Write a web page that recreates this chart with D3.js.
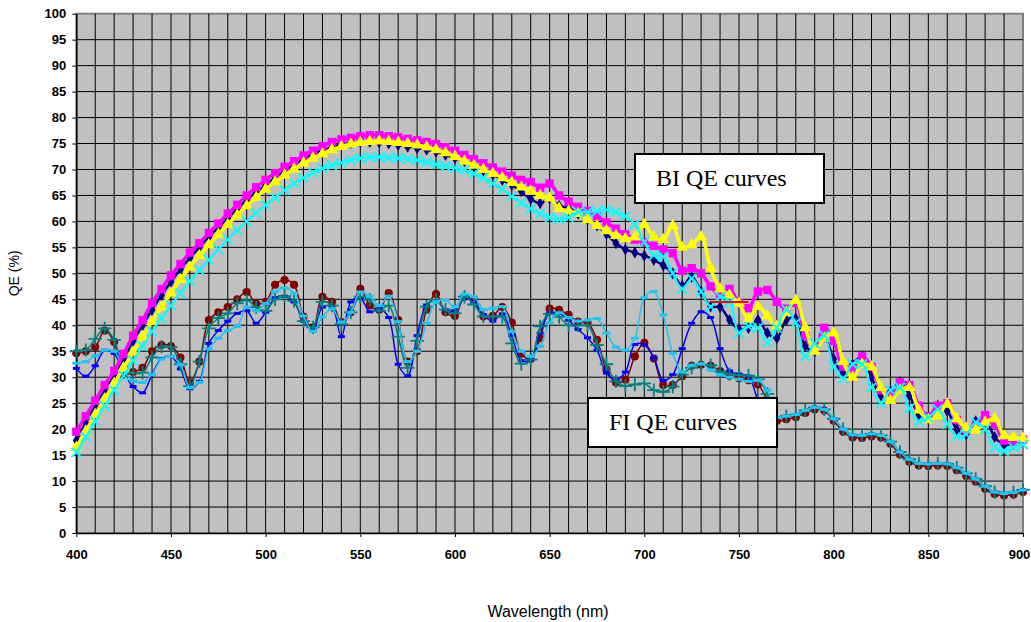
<!DOCTYPE html>
<html>
<head>
<meta charset="utf-8">
<script src="https://cdn.jsdelivr.net/npm/d3@7/dist/d3.min.js"></script>
<style>
  body { margin: 0; background: #fff; }
</style>
</head>
<body>
<div id="wrapper"></div>
<script>
// sample grid, nm (5 nm steps)
const wavelengths = d3.range(400, 901, 5);
const fiWavelengths = d3.range(400, 766, 5);
const tailWavelengths = d3.range(770, 901, 5);

// BI QE curves (%), 400..900 nm
const biNavy = [
  17.8,21.2,24.5,27.6,30.5,33.6,37,40,43,45.8,
  48.4,50.8,53,55,57,58.8,60.6,62.4,64.1,65.6,
  67,68.4,69.7,70.9,72,72.9,73.7,74.3,74.8,75.1,
  75.3,75.3,75.2,75,74.7,74.4,74.1,73.8,73.4,72.8,
  72.2,71.6,70.6,69.8,69,68,67,65.8,64.3,63.5,
  64.4,63,62.6,61.5,60.3,59.2,57.6,55.8,54.6,54,
  53.4,52.6,51.5,50,47.6,49.3,46.5,43.6,43.5,41,
  39.3,39.5,41,38.5,37.5,41,41.3,36,35,37.8,
  33.5,30.8,32.5,34,30,26.5,27.3,29,26.5,22.8,
  22,24.5,23.5,20,19,21.5,22,18.5,17,17.2,
  17.8];
const biMagenta = [
  19.5,22.5,25.5,28.5,31.2,34.5,38,41,44.3,47,
  49.6,51.8,54,55.8,57.8,59.6,61.5,63.2,65,66.6,
  68,69.3,70.5,71.6,72.7,73.6,74.5,75.3,75.8,76.1,
  76.4,76.6,76.6,76.4,76.2,75.9,75.6,75.3,74.9,74.3,
  73.6,72.8,72,71.2,70.4,69.6,68.8,68,67.6,66.5,
  67.3,65,63.8,62.8,62,61,59.8,58.6,57.5,56.5,
  56,55.3,54.6,53.9,50.5,51,50,47.5,45.8,47,
  44.3,43.3,46.5,46.8,44.5,43.2,44.3,38,35.5,39.5,
  37,32,31.5,34,32,27.5,26.5,29,28.5,24.5,
  22.5,24.5,25,21.8,19.8,20.5,22.7,21,17.8,17.6,
  18];
const biYellow = [
  16.5,19.6,22.8,25.8,28.8,31.8,34.8,37.8,40.7,43.5,
  46.2,48.8,51.2,53.4,55.5,57.5,59.4,61.2,63,64.6,
  66.2,67.6,68.9,70.1,71.2,72.2,73,73.8,74.4,74.9,
  75.2,75.4,75.5,75.4,75.2,75,74.7,74.3,73.8,73.2,
  72.5,71.6,70.8,70,69.2,68.4,67.5,66.6,65.8,65,
  64.5,62.5,62,61.5,60.3,59.2,58.2,57.3,56.7,57,
  59.4,57,56.5,59.2,55,55.5,57,51,47,45.8,
  44.2,41.2,43.6,41.8,39.8,42.5,44.8,39.5,35,37.5,
  38.5,33,30,32.5,32,28,25.5,27.5,28,23.7,
  21.8,22.5,24.8,22,20.2,19.8,21.3,22,18.7,18.4,
  18.2];
const biCyan = [
  15.5,18.5,21.5,24.5,27.5,30.3,33.2,36,38.8,41.4,
  43.8,46.2,48.5,50.6,52.6,54.6,56.5,58.3,60,61.6,
  63.2,64.6,66,67.3,68.4,69.4,70.2,70.8,71.3,71.8,
  72.2,72.4,72.4,72.3,72.2,72,71.8,71.4,71,70.6,
  70.3,69.9,69.2,68.4,67.3,66.2,64.8,63.6,62.4,61.5,
  60.8,60.4,60.8,61.8,61.8,62,62.2,61.8,61,59.5,
  56,53.5,53.2,50,47,49,46.5,43.6,45.5,44.5,
  38.5,39.8,39.5,36.7,39.5,43,40.5,34,36.5,38,
  32,29.8,32.5,32.5,28,25,27.5,28,24,21.5,
  22.2,23.8,21,18.6,19,21.3,20,16.5,15.8,16.5,
  17];
const redNm = [735, 740, 745, 750, 755];
const redQE = [44.5, 44.5, 44.5, 44.5, 44.5];

// FI QE curves (%), 400..765 nm, then tails 770..900 nm
const fiBlue = [
  31.7,30.2,32.2,35.2,34.6,30.8,28.2,27,30.5,33.6,
  34,31.6,27.8,29.2,36.5,39,40.8,42.3,42.8,40.4,
  42.5,45.3,45.6,44.5,40.8,39.2,43.5,43.6,37.8,44.5,
  45.2,42.6,43.2,41.5,32.5,30.3,38,43.9,44.7,43,
  42.8,45.2,44.5,42,40.8,42.2,38,33.2,33.4,38.5,
  42.3,42.3,41,39.2,37.6,35.2,30.8,29.5,31,36.3,
  36.2,33.8,29.4,30.5,35.5,40.4,42.6,41.5,35.5,31.2,
  30.6,30.2,25.5,21.6];
const fiDarkRed = [
  34.6,35,35.8,39,36.8,30.5,31,31.8,35,36.2,
  36,33.8,29,33,41,42.5,43.5,45,46.4,44.2,
  44.5,47.8,48.7,47.8,41.7,39.6,45.5,44.5,40.6,42.5,
  47,43.8,43,46.2,41,33,35,43,46,42.5,
  41.8,45.5,44.8,41.7,41.8,43.5,40.5,34.5,33.5,37.5,
  43.2,43,42,40.7,40.5,37.2,31.5,29,29.5,34,
  36.6,33.6,28.5,28.5,30.2,32.2,32.4,32.2,31.2,30.3,
  29.8,29.4,28.6,25.5];
const fiTeal = [
  35,35.2,37.4,39.4,37.2,32,30.8,30.9,33.8,35.9,
  35.8,32.5,28.3,33,39.4,41.4,42.3,44.2,44.8,43.5,
  42.8,45,45.6,44.7,40.8,39.6,44.5,43.8,40.2,42.5,
  45.5,44.9,42.8,43.8,37.8,31.8,37,43.6,44.9,43,
  42.3,45.5,44,41.7,41.7,41.6,36.5,32.6,33.4,39.8,
  42.2,41.6,40,40,40,36.2,32.5,29.2,28.3,28.6,
  28.8,27.5,27.2,28.2,30.5,31.8,32.4,32.3,31.1,30.6,
  30.4,30.3,29.6,26.8];
const fiLightBlue = [
  32.7,33,34.1,35.2,35,31.3,29.3,29,30.5,33.5,
  34,32.4,28,29,35.5,37.5,39,39.8,43.5,42.8,
  44.2,46.5,47.2,46.2,41.8,38.8,41.6,43.2,40.6,42.5,
  46.4,45.6,43.8,45.6,40.7,33,35,40.4,44.5,44.8,
  43.6,46,45.5,43,43.3,43.6,38.8,35,34,36,
  40.5,42.4,41.5,40.8,41,41.3,38.5,35.8,35.2,37.5,
  45.3,46.5,42,34.6,31,32.3,32.6,31.4,30.5,30,
  29.6,29.2,29.4,27.5];
const fiTail = [
  22.2,22.5,22.8,23.6,24.2,23.8,22,20,18.9,18.8,
  19.1,18.8,17.6,15.6,14.2,13.4,13.3,13.4,13.3,12.6,
  11.5,10.4,9,7.9,7.6,7.8,8.3];
const fiTailDarkRed = [
  21.6,21.9,22.3,23.1,23.8,23.6,21.6,19.5,18.4,18.3,
  18.6,18.4,17.2,15.1,13.7,13,12.9,13,12.9,12.1,
  11,9.9,8.5,7.5,7.2,7.4,7.9];

const xTicks = [400, 450, 500, 550, 600, 650, 700, 750, 800, 850, 900];
const yTicks = [0,5,10,15,20,25,30,35,40,45,50,55,60,65,70,75,80,85,90,95,100];

const width = 1031, height = 622;
const x = d3.scaleLinear().domain([400, 900]).range([76.3, 1023]);
const y = d3.scaleLinear().domain([0, 100]).range([533, 13.7]);

const svg = d3.select('#wrapper').append('svg')
  .attr('width', width)
  .attr('height', height)
  .style('display', 'block')
  .style('font-family', 'Arial, "Liberation Sans", sans-serif');

// plot area
svg.append('rect')
  .attr('x', x(400)).attr('y', y(100))
  .attr('width', x(900) - x(400)).attr('height', y(0) - y(100))
  .attr('fill', '#c0c0c0')
  .attr('stroke', '#808080')
  .attr('stroke-width', 2);

const grid = svg.append('g');
grid.selectAll('line.v')
  .data(d3.range(410, 900, 10))
  .join('line')
  .attr('x1', d => x(d)).attr('x2', d => x(d))
  .attr('y1', y(0)).attr('y2', y(100))
  .attr('stroke', '#000').attr('stroke-width', 1);
grid.selectAll('line.h')
  .data(d3.range(5, 100, 5))
  .join('line')
  .attr('x1', x(400)).attr('x2', x(900))
  .attr('y1', d => y(d)).attr('y2', d => y(d))
  .attr('stroke', '#000').attr('stroke-width', 1);

// axes
const xAxis = svg.append('g')
  .attr('transform', `translate(0,${y(0)})`)
  .call(d3.axisBottom(x).tickValues(xTicks).tickSize(4).tickPadding(13).tickSizeOuter(0));
const yAxis = svg.append('g')
  .attr('transform', `translate(${x(400)},0)`)
  .call(d3.axisLeft(y).tickValues(yTicks).tickSize(4).tickPadding(6).tickSizeOuter(0));
[xAxis, yAxis].forEach(a => {
  a.select('.domain').attr('stroke', '#000').attr('stroke-width', 1.5);
  a.selectAll('.tick line').attr('stroke', '#000');
  a.selectAll('text')
    .attr('fill', '#000')
    .style('font-family', 'Arial, "Liberation Sans", sans-serif')
    .style('font-size', '13px')
    .style('font-weight', 'bold');
});
xAxis.selectAll('.tick text').filter(d => d === 900).attr('dx', -4);

svg.append('text')
  .attr('transform', `translate(19,${(y(0) + y(100)) / 2}) rotate(-90)`)
  .attr('text-anchor', 'middle')
  .style('font-size', '14px')
  .text('QE (%)');
svg.append('text')
  .attr('x', 548).attr('y', 617)
  .attr('text-anchor', 'middle')
  .style('font-size', '16px')
  .text('Wavelength (nm)');

// curves
const line = d3.line()
  .x(d => x(d[0]))
  .y(d => y(d[1]))
  .curve(d3.curveCatmullRom.alpha(0.5));

function drawSeries(pts, color, marker, lw) {
  const g = svg.append('g');
  g.append('path')
    .datum(pts)
    .attr('fill', 'none')
    .attr('stroke', color)
    .attr('stroke-width', lw)
    .attr('d', line);
  const m = g.selectAll('g.m')
    .data(pts)
    .join('g')
    .attr('transform', d => `translate(${x(d[0])},${y(d[1])})`);
  marker(m, color);
}

const symMark = (type, size) => (sel, color) =>
  sel.append('path').attr('d', d3.symbol(type, size)()).attr('fill', color);
const strokeMark = (type, size, w) => (sel, color) =>
  sel.append('path').attr('d', d3.symbol(type, size)())
    .attr('fill', 'none').attr('stroke', color).attr('stroke-width', w);
const dashMark = (w, h) => (sel, color) =>
  sel.append('rect').attr('x', -w / 2).attr('y', -h / 2)
    .attr('width', w).attr('height', h).attr('fill', color);
const noMark = () => {};

const fiFull = (vals, tail) => fiWavelengths.map((w, i) => [w, vals[i]])
  .concat(tailWavelengths.map((w, i) => [w, tail[i]]));

drawSeries(fiFull(fiDarkRed, fiTailDarkRed), '#800000', symMark(d3.symbolCircle, 52), 1.5);
drawSeries(fiFull(fiBlue, fiTail), '#0000ff', dashMark(7, 3), 1.5);
drawSeries(fiFull(fiTeal, fiTail), '#008080', strokeMark(d3.symbolPlus, 60, 1.8), 1.5);
drawSeries(fiFull(fiLightBlue, fiTail), '#22c4f4', dashMark(8, 3), 1.5);

const biFull = vals => wavelengths.map((w, i) => [w, vals[i]]);
drawSeries(biFull(biNavy), '#000080', symMark(d3.symbolDiamond, 42), 2.5);
drawSeries(biFull(biMagenta), '#ff00ff', symMark(d3.symbolSquare, 70), 3.5);
drawSeries(biFull(biYellow), '#ffff00', symMark(d3.symbolTriangle, 62), 3.5);
drawSeries(biFull(biCyan), '#00ffff', strokeMark(d3.symbolTimes, 60, 1.8), 2);
drawSeries(redNm.map((w, i) => [w, redQE[i]]), '#ff0000', noMark, 2);

// text boxes
function label(x0, y0, w, h, txt) {
  svg.append('rect')
    .attr('x', x0).attr('y', y0).attr('width', w).attr('height', h)
    .attr('fill', '#fff').attr('stroke', '#000').attr('stroke-width', 2);
  svg.append('text')
    .attr('x', x0 + 21).attr('y', y0 + 32)
    .style('font-family', '"Times New Roman", "Liberation Serif", serif')
    .style('font-size', '24px')
    .text(txt);
}
label(635, 154, 189, 49, 'BI QE curves');
label(588, 398, 189, 49, 'FI QE curves');
</script>
</body>
</html>
